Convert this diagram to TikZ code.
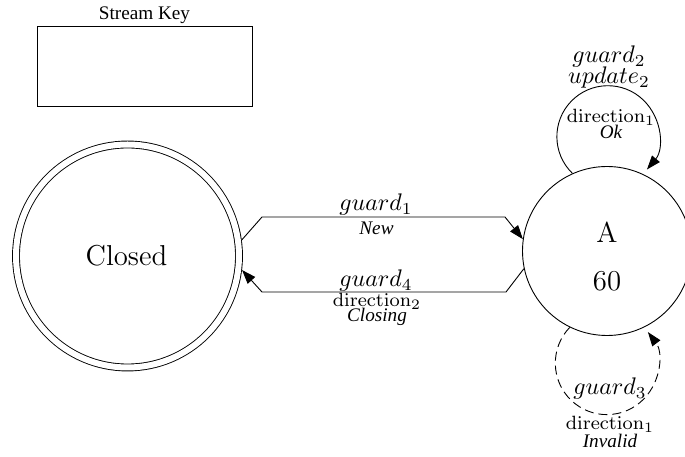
\documentclass[tikz,border=0pt]{standalone}
\usepackage[no-math]{fontspec}
\usepackage{graphicx}
\usetikzlibrary{arrows.meta}
\newfontfamily\timesfont{Liberation Serif}
% text set small and blown up, as the drawing was scaled
\newcommand{\sized}[2]{\scalebox{2.4}{\fontsize{#1}{#1}\selectfont #2}}

\begin{document}
\begin{tikzpicture}[x=1pt, y=1pt, line width=0.9pt,
  >={Triangle[length=14pt,width=10pt]},
  lbl/.style={anchor=base, inner sep=0pt, outer sep=0pt},
  loopdash/.style={dash pattern=on 9pt off 5pt}]
  \useasboundingbox (0,0) rectangle (685,457);

  % key
  \node[draw, minimum width=215pt, minimum height=80pt, inner sep=0pt] (key) at (144.5,391) {};
  \node[lbl] (keytitle) at (144.5,437) {\sized{8}{\timesfont Stream Key}};

  % states
  \node[draw, circle, double, double distance=6pt, minimum size=223pt, outer sep=3.9pt] (closed) at (127.5,201) {};
  \node[lbl] (closedname) at (126.5,191) {\sized{12}{Closed}};
  \node[draw, circle, minimum size=169pt] (A) at (607,206) {};
  \node[lbl] (aname) at (607,214) {\sized{12}{A}};
  \node[lbl] (acount) at (607,166) {\sized{12}{60}};

  % closed <-> A
  \draw[->] (closed.8) -- (262,240) -- (505,240) -- (A.172);
  \draw[->] (A.192) -- (506,165) -- (262,165) -- (closed.-7);
  \node[lbl] (guardnew) at (376,246) {\sized{10}{$guard_1$}};
  \node[lbl] (textnew) at (376.5,222) {\sized{8}{\timesfont\itshape New}};
  \node[lbl] (guardclose) at (376,170.5) {\sized{10}{$guard_4$}};
  \node[lbl] (dirclose) at (377,150.5) {\sized{8}{$\mathrm{direction}_2$}};
  \node[lbl] (textclose) at (377,135.5) {\sized{8}{\timesfont\itshape Closing}};

  % self loops
  \draw[->] (A.114) arc[start angle=226, end angle=-40, radius=51];
  \node[lbl] (guardok) at (609,394) {\sized{10}{$guard_2$}};
  \node[lbl] (updateok) at (609,373.5) {\sized{10}{$update_2$}};
  \node[lbl] (dirok) at (611,334) {\sized{8}{$\mathrm{direction}_1$}};
  \node[lbl] (textok) at (611,318.5) {\sized{8}{\timesfont\itshape Ok}};

  \draw[->, loopdash] (A.244) arc[start angle=136, end angle=397, radius=51.5];
  \node[lbl] (guardinv) at (610,62) {\sized{10}{$guard_3$}};
  \node[lbl] (dirinv) at (610,27) {\sized{8}{$\mathrm{direction}_1$}};
  \node[lbl] (textinv) at (610,9.5) {\sized{8}{\timesfont\itshape Invalid}};
\end{tikzpicture}
\end{document}
